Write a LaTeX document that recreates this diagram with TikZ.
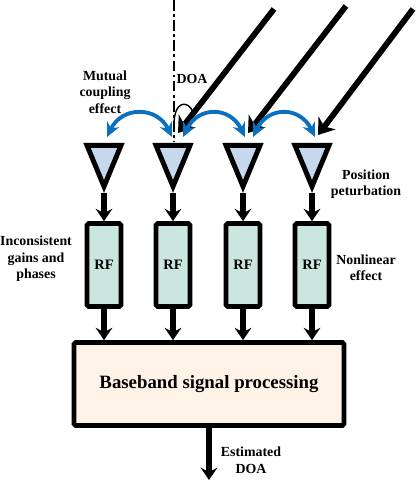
\documentclass[tikz,border=0pt]{standalone}
\usepackage{fontspec}
\setmainfont{Liberation Serif}
\usetikzlibrary{arrows.meta,shapes.geometric}
\definecolor{antfill}{HTML}{C6D7EE}
\definecolor{rffill}{HTML}{CBE6DE}
\definecolor{basefill}{HTML}{FFF2E6}
\definecolor{coupleblue}{HTML}{0B70C0}
\tikzset{
  antenna/.style={draw,line width=2.8pt,fill=antfill,isosceles triangle,shape border rotate=-90,
    isosceles triangle stretches,minimum width=0.68cm,minimum height=0.82cm,inner sep=0pt,anchor=lower side},
  rfbox/.style={draw,line width=2.7pt,rounded corners=1pt,fill=rffill,minimum width=0.68cm,minimum height=1.66cm,
    inner sep=0pt,font=\bfseries\fontsize{8.2}{9}\selectfont},
  basebox/.style={draw,line width=2.7pt,rounded corners=1pt,fill=basefill,minimum width=5.4cm,minimum height=1.66cm,
    inner sep=0pt,font=\bfseries\fontsize{10.7}{12}\selectfont},
  note/.style={align=center,inner sep=0pt,font=\bfseries\fontsize{7.9}{9.4}\selectfont},
  feed/.style={line width=2.9pt,-{Stealth[length=7pt,width=9.5pt,inset=2.5pt]}},
  ray/.style={line width=3.3pt,-{Stealth[length=8.5pt,width=12pt,inset=2.5pt]}},
  couple/.style={coupleblue,line width=2.2pt,{Stealth[length=8pt,width=7.5pt]}-{Stealth[length=8pt,width=7.5pt]}},
}
\begin{document}
\begin{tikzpicture}[x=0.02cm,y=0.02cm]
\useasboundingbox (0,0) rectangle (415,482);

\coordinate (doatop) at (174,482);
\coordinate (doabot) at (174,340);
\draw[line width=0.8pt,dash pattern=on 6pt off 2pt on 1.5pt off 2pt] (doatop) -- (doabot);

\node[antenna] (anta) at (104,339) {};
\node[antenna] (antb) at (173,339) {};
\node[antenna] (antc) at (243,339) {};
\node[antenna] (antd) at (312,339) {};

\node[rfbox] (rfa) at (104,217) {RF};
\node[rfbox] (rfb) at (173,217) {RF};
\node[rfbox] (rfc) at (243,217) {RF};
\node[rfbox] (rfd) at (312,217) {RF};

\node[basebox] (base) at (209,98) {Baseband signal processing};

% incoming rays
\coordinate (raya) at (274,473);
\coordinate (rayb) at (346,476);
\coordinate (rayc) at (413,473);
\coordinate (hita) at (178,349);
\coordinate (hitb) at (248,349);
\coordinate (hitc) at (318,347);
\draw[ray] (raya) -- (hita);
\draw[ray] (rayb) -- (hitb);
\draw[ray] (rayc) -- (hitc);

% angle mark
\coordinate (marka) at (174,357);
\coordinate (markb) at (193,370);
\draw[line width=0.8pt] (marka) .. controls (174,382) and (188,382) .. (markb);

% coupling
\coordinate (cpa) at (107,345);
\coordinate (cpb) at (172,345);
\coordinate (cpc) at (183,345);
\coordinate (cpd) at (245,345);
\coordinate (cpe) at (253,345);
\coordinate (cpf) at (315,345);
\draw[couple] (cpa) .. controls (122,376) and (157,376) .. (cpb);
\draw[couple] (cpc) .. controls (198,376) and (230,376) .. (cpd);
\draw[couple] (cpe) .. controls (268,376) and (300,376) .. (cpf);

% feeds
\draw[feed] (anta.apex) -- (rfa.north);
\draw[feed] (antb.apex) -- (rfb.north);
\draw[feed] (antc.apex) -- (rfc.north);
\draw[feed] (antd.apex) -- (rfd.north);
\draw[feed] (rfa.south) -- (rfa.south |- base.north);
\draw[feed] (rfb.south) -- (rfb.south |- base.north);
\draw[feed] (rfc.south) -- (rfc.south |- base.north);
\draw[feed] (rfd.south) -- (rfd.south |- base.north);
\coordinate (out) at (209,2);
\draw[feed] (base.south) -- (out);

\node[note] (mutual) at (105,390) {Mutual\\coupling\\effect};
\node[note] (doa) at (192,403) {DOA};
\node[note] (position) at (366,298) {Position\\peturbation};
\node[note] (gains) at (36,223) {Inconsistent\\gains and\\phases};
\node[note] (nonlin) at (366,214) {Nonlinear\\effect};
\node[note] (est) at (251,22) {Estimated\\DOA};
\end{tikzpicture}
\end{document}
